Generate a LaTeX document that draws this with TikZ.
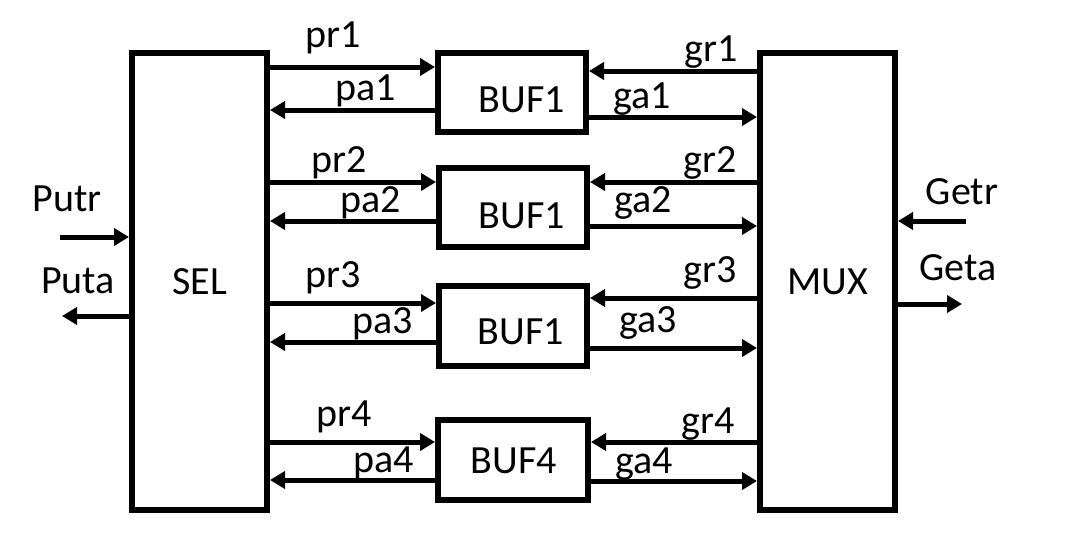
\documentclass[tikz,border=0pt]{standalone}
\usepackage{fontspec}
\setmainfont{Carlito}
\usetikzlibrary{arrows.meta}

\begin{document}
\begin{tikzpicture}[x=1pt,y=-1pt,>={Triangle[length=15pt,width=17pt]},
                    font=\fontsize{40}{48}\selectfont,
                    blk/.style={draw,line width=6pt,inner sep=0pt,
                                minimum width=135pt,minimum height=457pt},
                    buf/.style={draw,line width=6pt,inner sep=0pt,
                                minimum width=148pt,minimum height=79pt},
                    sig/.style={->,line width=5pt},
                    txt/.style={anchor=base,inner sep=0pt}]

  \useasboundingbox (0,0) rectangle (1090,541);

  \node[blk] (sel) at (199.5,281.5) {SEL};
  \node[blk] (mux) at (827.5,281.5) {MUX};

  \node[buf]                   (buf1) at (512,92.5)  {};
  \node[buf]                   (buf2) at (513,207.5) {};
  \node[buf,minimum height=80pt] (buf3) at (513,325.5) {};
  \node[buf,minimum width=150pt,minimum height=80pt] (buf4) at (513,460) {};

  \node[txt] (t1) at (522,112) {BUF1};
  \node[txt] (t2) at (522,228) {BUF1};
  \node[txt] (t3) at (521,344) {BUF1};
  \node[txt] (t4) at (514,473) {BUF4};

  % request / acknowledge pairs
  \foreach \n/\ya/\yb/\yc/\yd in {1/67/110/71/117,2/182/221/182/226,
                                  3/303/342/298/348,4/442/480/442/481}{
    \coordinate (pr\n) at (0,\ya);
    \coordinate (pa\n) at (0,\yb);
    \coordinate (gr\n) at (0,\yc);
    \coordinate (ga\n) at (0,\yd);
    \draw[sig] (sel.east |- pr\n) -- (buf\n.west |- pr\n);
    \draw[sig] (buf\n.west |- pa\n) -- (sel.east |- pa\n);
    \draw[sig] (mux.west |- gr\n) -- (buf\n.east |- gr\n);
    \draw[sig] (buf\n.east |- ga\n) -- (mux.west |- ga\n);
  }

  \node[txt] (lpr1) at (333,47)  {pr1};
  \node[txt] (lpa1) at (366,100) {pa1};
  \node[txt] (lgr1) at (711,61)  {gr1};
  \node[txt] (lga1) at (642,108) {ga1};
  \node[txt] (lpr2) at (339,172) {pr2};
  \node[txt] (lpa2) at (371,212) {pa2};
  \node[txt] (lgr2) at (710,172) {gr2};
  \node[txt] (lga2) at (643,212) {ga2};
  \node[txt] (lpr3) at (333,287) {pr3};
  \node[txt] (lpa3) at (383,333) {pa3};
  \node[txt] (lgr3) at (710,282) {gr3};
  \node[txt] (lga3) at (648,332) {ga3};
  \node[txt] (lpr4) at (344,426) {pr4};
  \node[txt] (lpa4) at (384,472) {pa4};
  \node[txt] (lgr4) at (708,433) {gr4};
  \node[txt] (lga4) at (644,473) {ga4};

  % outside handshake
  \coordinate (putr) at (60,237);
  \coordinate (puta) at (62,316);
  \coordinate (getr) at (966,221);
  \coordinate (geta) at (962,304);
  \draw[sig] (putr) -- (sel.west |- putr);
  \draw[sig] (sel.west |- puta) -- (puta);
  \draw[sig] (getr) -- (mux.east |- getr);
  \draw[sig] (mux.east |- geta) -- (geta);

  \node[txt] (lputr) at (67,211)  {Putr};
  \node[txt] (lputa) at (78,293)  {Puta};
  \node[txt] (lgetr) at (962,204) {Getr};
  \node[txt] (lgeta) at (958,280) {Geta};
\end{tikzpicture}
\end{document}
